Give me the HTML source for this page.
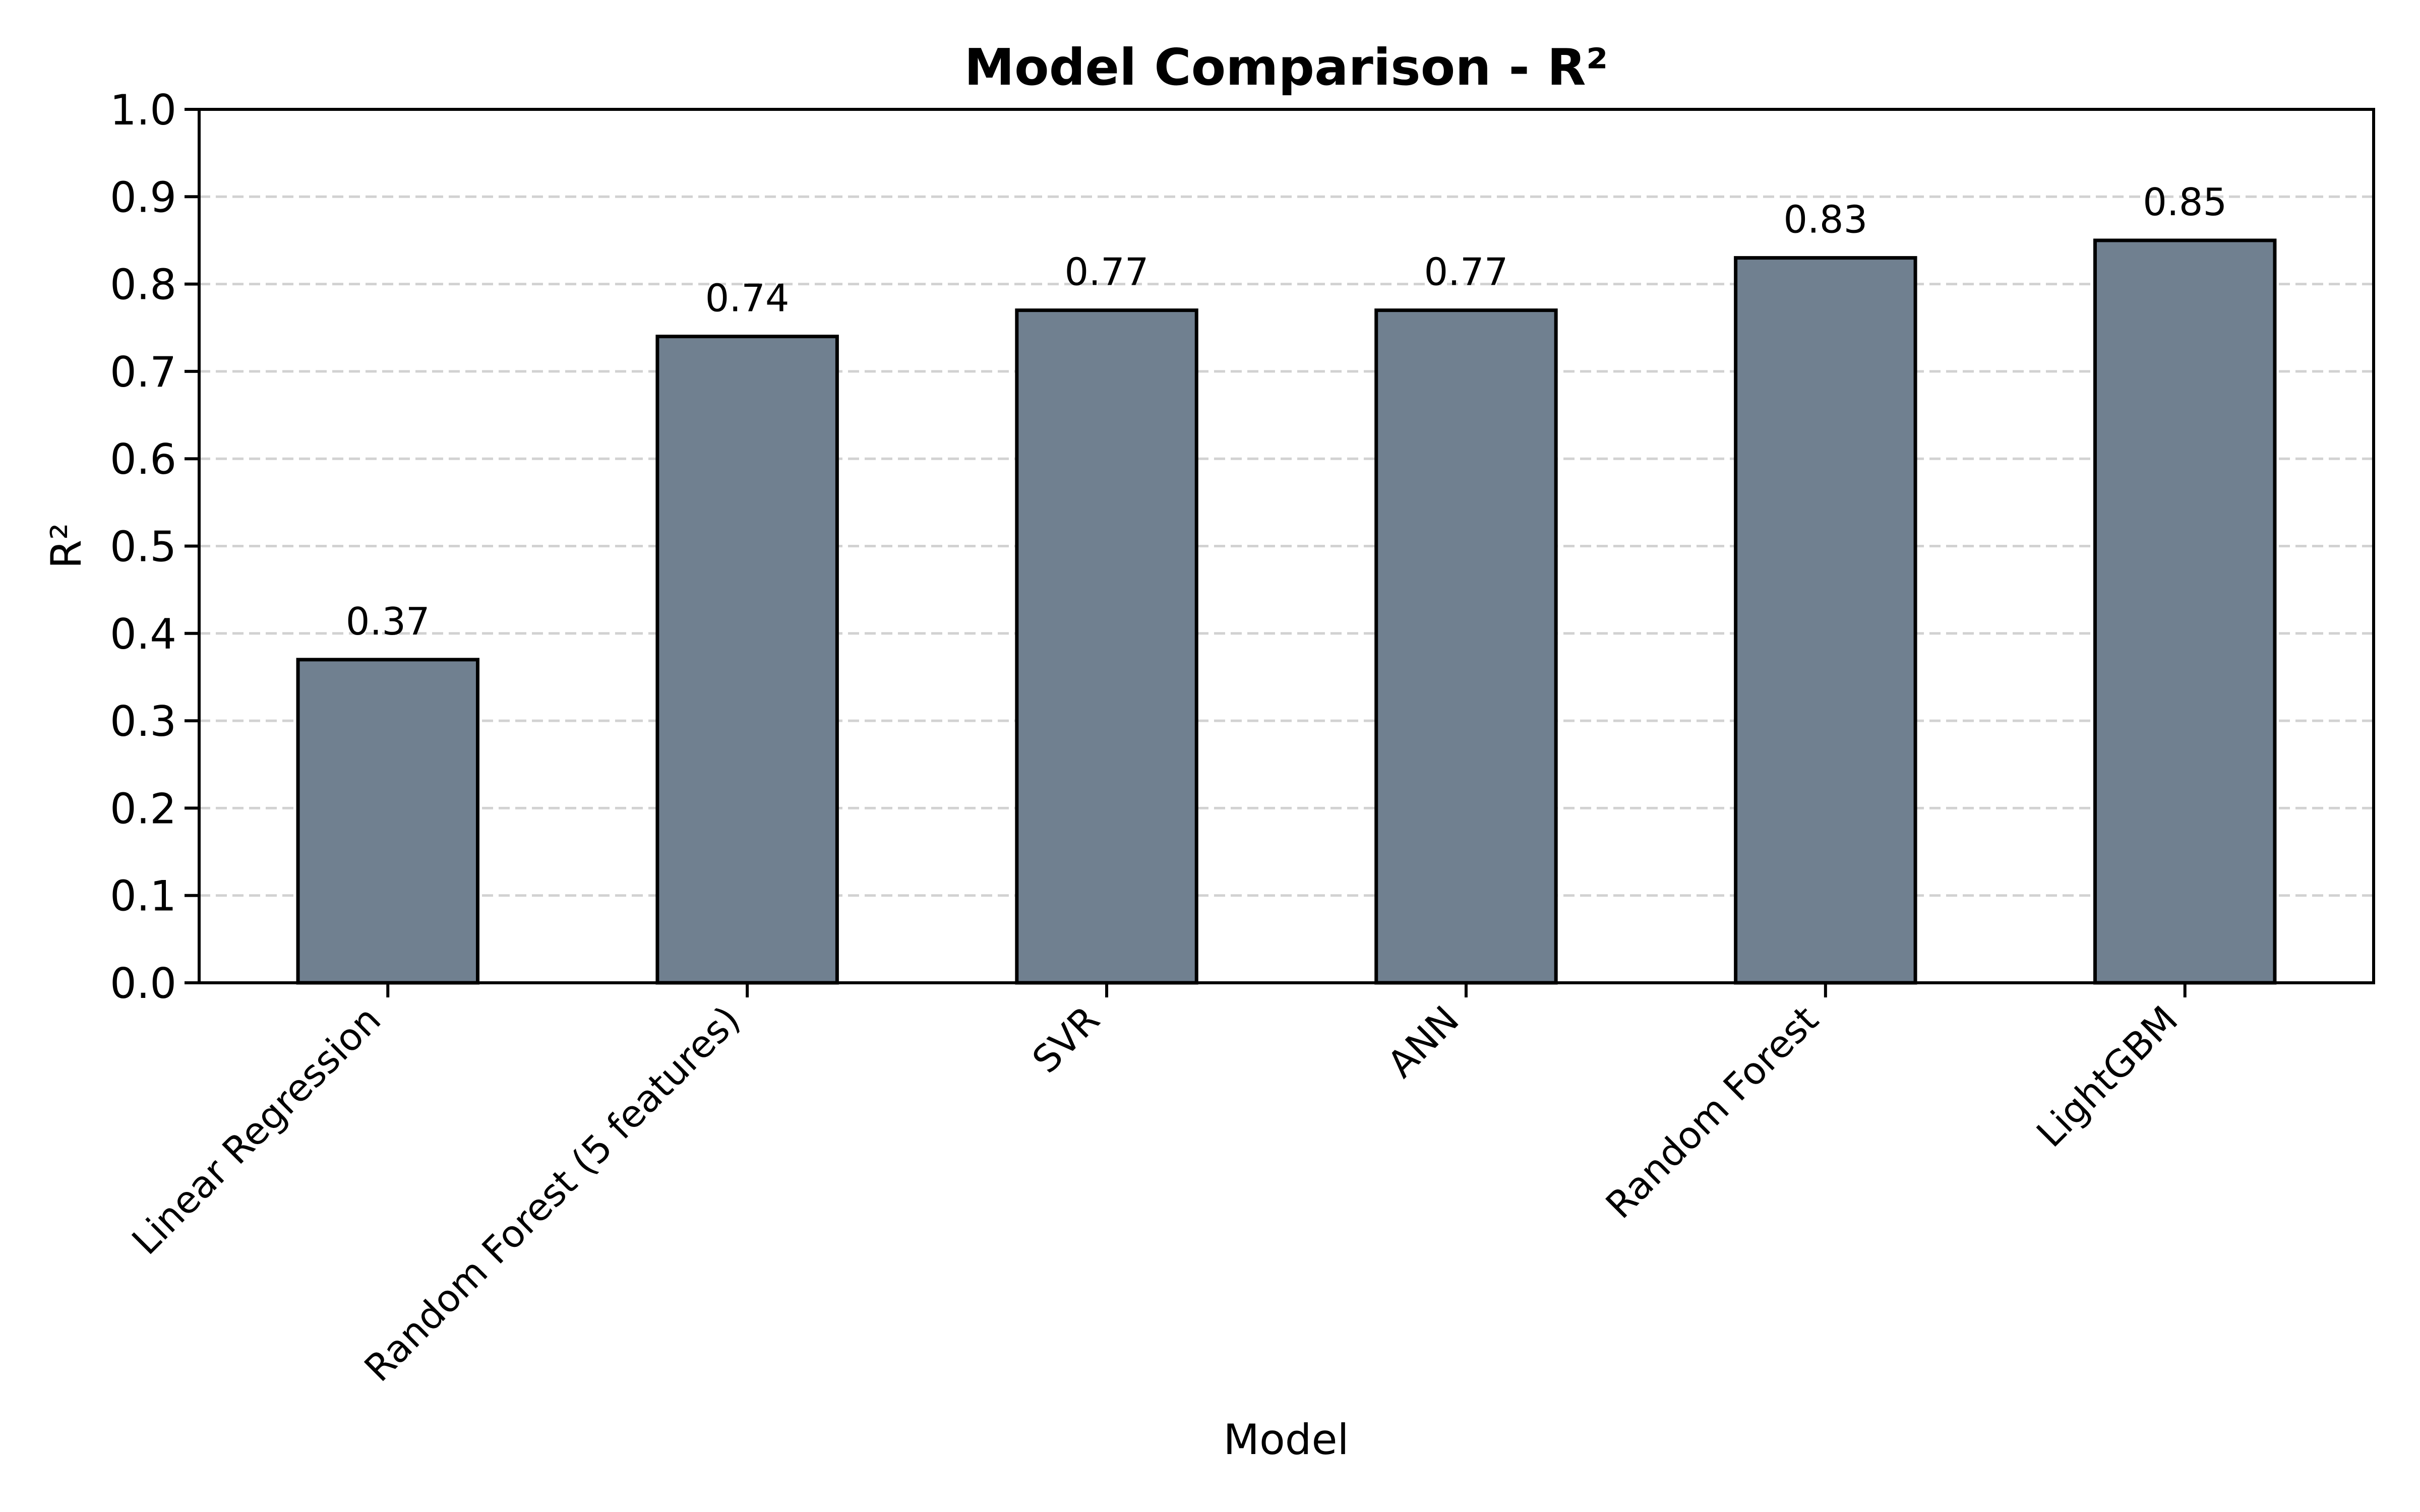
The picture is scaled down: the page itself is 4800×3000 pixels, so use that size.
<!DOCTYPE html>
<html><head><meta charset="utf-8"><style>
html,body{margin:0;padding:0;background:#fff;}
svg{display:block;font-family:"DejaVu Sans","Liberation Sans",sans-serif;}
</style></head>
<body>
<svg id="chart" width="4800" height="3000" viewBox="0 0 4800 3000" xmlns="http://www.w3.org/2000/svg">
<rect width="4800" height="3000" fill="#fff"/>
<g id="grid"></g>
<g id="bars"></g>
<g id="axes"></g>
<text x="2551" y="168" text-anchor="middle" font-size="100" font-weight="bold">Model Comparison - R²</text>
<text x="2551" y="2885" text-anchor="middle" font-size="83">Model</text>
<text transform="translate(160,1083) rotate(-90)" text-anchor="middle" font-size="83">R²</text>
</svg>
<script>
const categories = ["Linear Regression","Random Forest (5 features)","SVR","ANN","Random Forest","LightGBM"];
const values = [0.37,0.74,0.77,0.77,0.83,0.85];
const valueLabels = ["0.37","0.74","0.77","0.77","0.83","0.85"];
const yTicks = [0,0.1,0.2,0.3,0.4,0.5,0.6,0.7,0.8,0.9,1.0];
const yTickLabels = ["0.0","0.1","0.2","0.3","0.4","0.5","0.6","0.7","0.8","0.9","1.0"];

const NS="http://www.w3.org/2000/svg";
const L=395,R=4708,T=217,B=1950;
const xmin=-0.525,xmax=categories.length-1+0.525;
const xs=i=>L+(i-xmin)/(xmax-xmin)*(R-L);
const ys=v=>B-(v-0)/(1-0)*(B-T);
function mk(tag,attrs,parent,text){const e=document.createElementNS(NS,tag);for(const k in attrs)e.setAttribute(k,attrs[k]);if(text!==undefined)e.textContent=text;parent.appendChild(e);return e;}
const grid=document.getElementById('grid'),bars=document.getElementById('bars'),axes=document.getElementById('axes');

yTicks.forEach((t,i)=>{
  const y=ys(t);
  if(t>0&&t<1){
    const g=mk('line',{x1:L,x2:R,y1:y,y2:y,stroke:'#d2d2d2','stroke-width':5,'stroke-dasharray':'22 11'},grid);
    
    
  }
  const tk=mk('line',{x1:L-29,x2:L,y1:y,y2:y,stroke:'#000','stroke-width':6},axes);
  
  
  const lb=mk('text',{x:L-45,y:y+30,'text-anchor':'end','font-size':83},axes,yTickLabels[i]);
  
  
});

const bw=0.5;
categories.forEach((c,i)=>{
  const x0=xs(i-bw/2),x1=xs(i+bw/2),y=ys(values[i]);
  const r=mk('rect',{x:x0,y:y,width:x1-x0,height:B-y,fill:'#708090',stroke:'#000','stroke-width':7},bars);
  
  
  const vl=mk('text',{x:xs(i),y:y-50,'text-anchor':'middle','font-size':75},bars,valueLabels[i]);
  
  
  const tk=mk('line',{x1:xs(i),x2:xs(i),y1:B,y2:B+29,stroke:'#000','stroke-width':6},axes);
  
  
  const ax=xs(i)-10,ay=B+78;
  const xl=mk('text',{x:ax,y:ay,'text-anchor':'end','font-size':74,transform:`rotate(-45 ${ax} ${ay})`},axes,c);
  
  
});

const frame=mk('rect',{x:L,y:T,width:R-L,height:B-T,fill:'none',stroke:'#000','stroke-width':6},axes);


</script>
</body></html>
